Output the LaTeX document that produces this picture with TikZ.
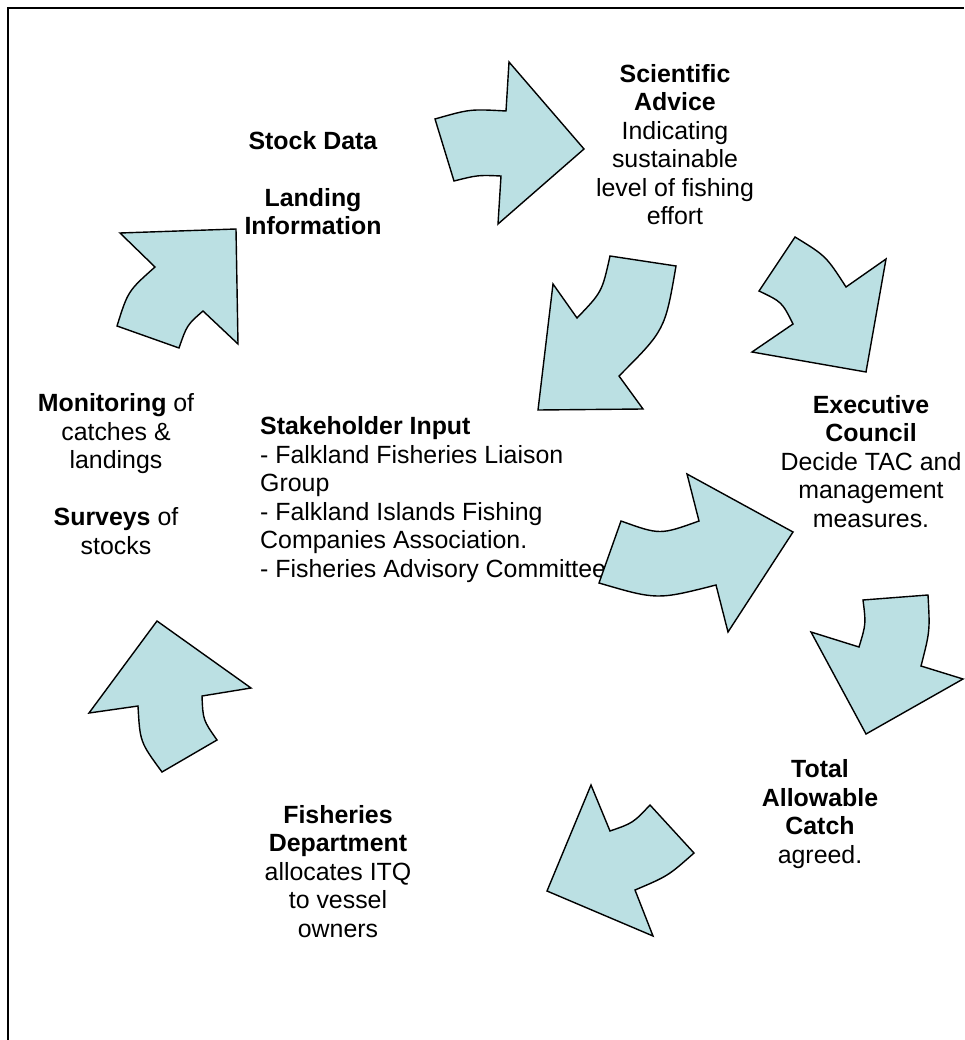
\documentclass[tikz,border=0pt]{standalone}
\usepackage{fontspec}
\setmainfont{Liberation Sans}
\definecolor{arrowfill}{RGB}{187,224,227}
\begin{document}
\begin{tikzpicture}[x=1pt,y=-1pt,
  blockarrow/.style={draw=black,line width=1.4pt,fill=arrowfill,line join=miter},
  lbl/.style={inner sep=0pt,align=center,font=\fontsize{24.9}{28.5}\selectfont},
  lblleft/.style={inner sep=0pt,align=left,font=\fontsize{24.9}{28.5}\selectfont}]
\useasboundingbox (0,0) rectangle (964,1040);
\draw[line width=1.8pt] (8,1040) -- (8,8) -- (964,8);

% labels (y = baseline of last line)
\node[lbl,anchor=base] (stock) at (313,235) {\textbf{Stock Data}\\ \\ \textbf{Landing}\\ \textbf{Information}};
\node[lbl,anchor=base] (sci) at (675,225) {\textbf{Scientific}\\ \textbf{Advice}\\ Indicating\\ sustainable\\ level of fishing\\ effort};
\node[lbl,anchor=base] (mon) at (116,554) {\textbf{Monitoring} of\\ catches \&\\ landings\\ \\ \textbf{Surveys} of\\ stocks};
\node[lblleft,anchor=base west] (stake) at (260,577) {\textbf{Stakeholder Input}\\ - Falkland Fisheries Liaison\\ Group\\ - Falkland Islands Fishing\\ Companies Association.\\ - Fisheries Advisory Committee};
\node[lbl,anchor=base] (exec) at (871,527) {\textbf{Executive}\\ \textbf{Council}\\ Decide TAC and\\ management\\ measures.};
\node[lbl,anchor=base] (tac) at (820,863) {\textbf{Total}\\ \textbf{Allowable}\\ \textbf{Catch}\\ agreed.};
\node[lbl,anchor=base] (fd) at (338,937) {\textbf{Fisheries}\\ \textbf{Department}\\ allocates ITQ\\ to vessel\\ owners};

% arrow 1: stock data -> scientific advice
\draw[blockarrow] (435,119) .. controls (470,109) .. (506,111) -- (509,62) -- (584,149) -- (498,224) -- (501,176) .. controls (478,175) .. (454,181) -- cycle;
% arrow 2: scientific advice -> stakeholder input
\draw[blockarrow] (610,256) -- (676,266) .. controls (665,330) .. (619,376) -- (643,409) -- (538,410) -- (553,284) -- (577,318) .. controls (602,292) .. cycle;
% arrow 3: scientific advice -> executive council
\draw[blockarrow] (795,237) .. controls (826,256) .. (846,287) -- (886,259) -- (866,372) -- (752,352) -- (793,324) .. controls (782,302) .. (759,291) -- cycle;
% arrow 4: stakeholder input -> executive council
\draw[blockarrow] (621,521) .. controls (660,535) .. (699,521) -- (687,474) -- (793,532) -- (728,632) -- (716,585) .. controls (657,600) .. (599,583) -- cycle;
% arrow 5: executive council -> total allowable catch
\draw[blockarrow] (863,600) -- (928,595) .. controls (930,631) .. (921,666) -- (963,679) -- (866,734) -- (811,632) -- (859,647) .. controls (866,624) .. cycle;
% arrow 6: total allowable catch -> fisheries department
\draw[blockarrow] (591,785) -- (610,831) .. controls (633,823) .. (650,805) -- (694,853) .. controls (668,876) .. (635,890) -- (653,936) -- (547,891) -- cycle;
% arrow 7: fisheries department -> monitoring
\draw[blockarrow] (157,621) -- (251,688) -- (202,696) .. controls (203,720) .. (217,740) -- (162,772) .. controls (140,742) .. (138,706) -- (89,713) -- cycle;
% arrow 8: monitoring -> stock data
\draw[blockarrow] (120,233) -- (236,229) -- (238,344) -- (203,311) .. controls (187,325) .. (179,348) -- (117,326) .. controls (128,291) .. (155,267) -- cycle;
\end{tikzpicture}
\end{document}
